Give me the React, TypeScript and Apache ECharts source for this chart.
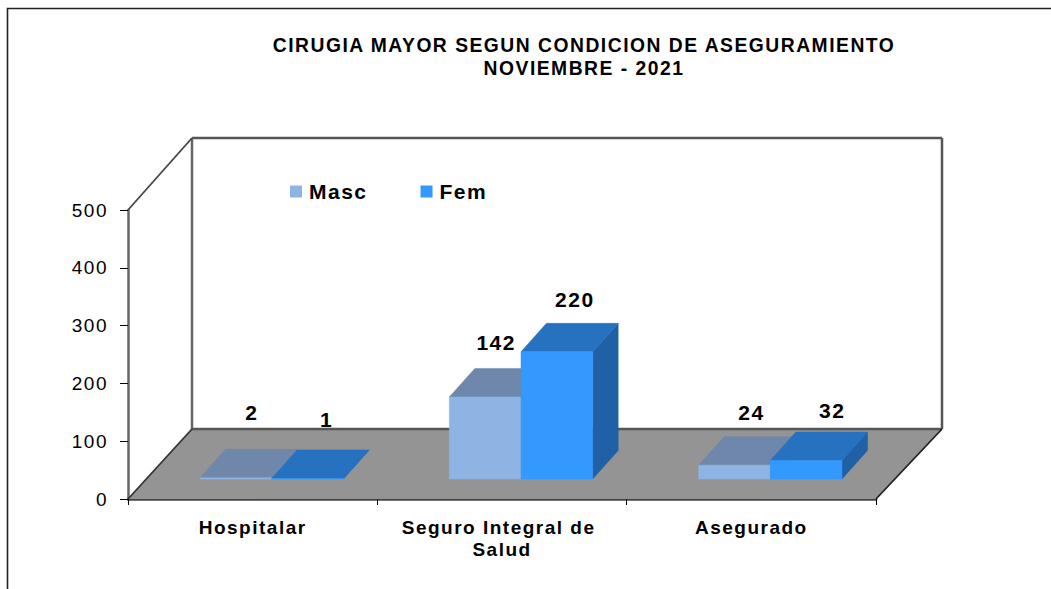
import React, { useEffect, useRef } from "react";
import * as echarts from "echarts";

const categories = ["Hospitalar", "Seguro Integral de Salud", "Asegurado"];
const masc = [2, 142, 24];
const fem = [1, 220, 32];
const titleLines = "CIRUGIA MAYOR SEGUN CONDICION DE ASEGURAMIENTO\nNOVIEMBRE - 2021";

// hand-placed offsets of the value labels, relative to the top-front centre of each bar
const mascLabelNudge = [[16, -65], [11, -54], [17, -53]];
const femLabelNudge = [[19, -59], [18, -52], [26, -50]];

const FONT = '"Liberation Sans", Arial, sans-serif';
const BAR_FRAC = 0.2875;
const BASE_DX = 19, BASE_DY = -20;
const DEPTH_DX = 25.5, DEPTH_DY = -28.5;
const WALL_DX = 64, WALL_DY = -70;

function barRenderer(
  side: number,
  front: string,
  top: string,
  right: string,
  nudge: number[][],
) {
  return (_p: any, api: any) => {
    const cat = api.value(0);
    const val = api.value(1);
    const base = api.coord([cat, 0]);
    const head = api.coord([cat, val]);
    const w = api.size([1, 0])[0] * BAR_FRAC;
    const x0 = base[0] + BASE_DX + (side === 0 ? -w : 0);
    const x1 = x0 + w;
    const yb = base[1] + BASE_DY;
    const yt = head[1] + BASE_DY;
    const poly = (pts: number[][], fill: string) => ({
      type: "polygon",
      shape: { points: pts },
      style: { fill, stroke: fill, lineWidth: 0.5 },
    });
    const [nx, ny] = nudge[cat];
    return {
      type: "group",
      children: [
        poly(
          [[x1, yb], [x1 + DEPTH_DX, yb + DEPTH_DY], [x1 + DEPTH_DX, yt + DEPTH_DY], [x1, yt]],
          right,
        ),
        poly(
          [[x0, yt], [x1, yt], [x1 + DEPTH_DX, yt + DEPTH_DY], [x0 + DEPTH_DX, yt + DEPTH_DY]],
          top,
        ),
        poly([[x0, yb], [x1, yb], [x1, yt], [x0, yt]], front),
        {
          type: "text",
          style: {
            text: String(val),
            x: (x0 + x1) / 2 + nx,
            y: yt + ny,
            fill: "#000",
            font: `bold 21px ${FONT}`,
            align: "center",
            verticalAlign: "middle",
          },
        },
      ],
    };
  };
}

function frameRenderer(params: any, api: any) {
  const { x, y, width, height } = params.coordSys;
  const line = (a: number[], b: number[], stroke: string, lineWidth: number) => ({
    type: "line",
    shape: { x1: a[0], y1: a[1], x2: b[0], y2: b[1] },
    style: { stroke, lineWidth },
  });
  const fl = [x, y + height];
  const fr = [x + width, y + height];
  const tl = [x, y];
  const bl = [x + WALL_DX, y + height + WALL_DY];
  const br = [x + width + WALL_DX + 2, y + height + WALL_DY];
  const btl = [x + WALL_DX, y + WALL_DY - 2];
  const btr = [x + width + WALL_DX + 2, y + WALL_DY - 2];
  return {
    type: "group",
    children: [
      {
        type: "polygon",
        shape: { points: [fl, fr, br, bl] },
        style: { fill: "#949494" },
      },
      line(btl, btr, "#555", 2.5),
      line(btl, bl, "#666", 2.5),
      line(btr, br, "#555", 2.5),
      line(bl, br, "#555", 2.5),
      line(tl, btl, "#444", 1.8),
      line(fl, bl, "#333", 1.8),
      line(fr, br, "#222", 1.8),
    ],
  };
}

export default function App() {
  const ref = useRef<HTMLDivElement>(null);
  useEffect(() => {
    document.body.style.margin = "0";
    const chart = echarts.init(ref.current!, undefined, { renderer: "svg" });
    const cats = categories.map((_, i) => i);
    chart.setOption({
      animation: false,
      backgroundColor: "#fff",
      textStyle: { fontFamily: FONT },
      title: {
        text: titleLines,
        left: 579,
        top: 29,
        textAlign: "center",
        textStyle: {
          fontFamily: FONT,
          fontSize: 19.3,
          fontWeight: "bold",
          color: "#000",
          lineHeight: 23,
        },
      },
      legend: {
        left: 290,
        top: 181,
        padding: 0,
        icon: "rect",
        itemWidth: 12,
        itemHeight: 12,
        itemGap: 59,
        selectedMode: false,
        data: ["Masc", "Fem"],
        textStyle: { fontFamily: FONT, fontWeight: "bold", fontSize: 21, color: "#000", padding: [0, 0, 0, 2] },
      },
      grid: { left: 128, top: 210, width: 748, height: 289, containLabel: false },
      xAxis: {
        type: "category",
        data: categories,
        axisLine: { lineStyle: { color: "#444", width: 2.5 } },
        axisTick: { show: true, alignWithLabel: false, length: 6, lineStyle: { color: "#000" } },
        axisLabel: {
          color: "#000",
          fontFamily: FONT,
          fontWeight: "bold",
          fontSize: 19,
          margin: 17,
          width: 200,
          overflow: "break",
          lineHeight: 22,
          interval: 0,
        },
      },
      yAxis: {
        type: "value",
        min: 0,
        max: 500,
        interval: 100,
        splitLine: { show: false },
        axisLine: { show: true, lineStyle: { color: "#666", width: 2.5 } },
        axisTick: { show: true, length: 8, lineStyle: { color: "#000" } },
        axisLabel: { color: "#000", fontFamily: FONT, fontSize: 19, margin: 20 },
      },
      series: [
        {
          type: "custom",
          name: "frame",
          silent: true,
          clip: false,
          z: 1,
          renderItem: frameRenderer,
          data: [[0, 0]],
          encode: { x: 0, y: 1 },
        },
        {
          type: "custom",
          name: "Masc",
          clip: false,
          z: 2,
          itemStyle: { color: "#8DB4E2" },
          renderItem: barRenderer(0, "#8DB4E2", "#6E87AB", "#5F7FA8", mascLabelNudge),
          data: cats.map((i) => [i, masc[i]]),
          encode: { x: 0, y: 1 },
        },
        {
          type: "custom",
          name: "Fem",
          clip: false,
          z: 3,
          itemStyle: { color: "#3399FF" },
          renderItem: barRenderer(1, "#3399FF", "#2672C0", "#2060A5", femLabelNudge),
          data: cats.map((i) => [i, fem[i]]),
          encode: { x: 0, y: 1 },
        },
      ],
      graphic: [
        {
          type: "polyline",
          silent: true,
          shape: { points: [[7.5, 589], [7.5, 8.5], [1051, 8.5]] },
          style: { stroke: "#222", lineWidth: 1.6, fill: "none" },
        },
      ],
    });
    return () => chart.dispose();
  }, []);
  return (
    <div
      ref={ref}
      style={{ position: "absolute", left: 0, top: 0, width: 1051, height: 589, letterSpacing: "1.5px" }}
    />
  );
}
